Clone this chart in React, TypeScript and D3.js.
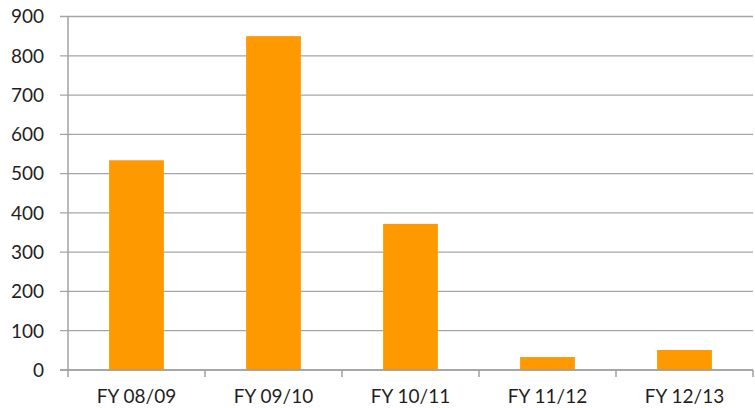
import { useEffect, useRef } from 'react';
import * as d3 from 'd3';

const categories = ['FY 08/09', 'FY 09/10', 'FY 10/11', 'FY 11/12', 'FY 12/13'];
const values = [534, 850, 372, 33, 51];
const yTicks = [0, 100, 200, 300, 400, 500, 600, 700, 800, 900];

export default function App() {
  const svgRef = useRef<SVGSVGElement>(null);

  useEffect(() => {
    document.body.style.margin = '0';
    if (!svgRef.current) return;

    const width = 755;
    const height = 408;
    const margin = { top: 16.5, right: 2, bottom: 38, left: 68 };
    const innerWidth = width - margin.left - margin.right;
    const innerHeight = height - margin.top - margin.bottom;

    d3.select(svgRef.current).selectAll('*').remove();

    const svg = d3.select(svgRef.current)
      .attr('width', width)
      .attr('height', height);

    const g = svg.append('g')
      .attr('transform', `translate(${margin.left},${margin.top})`);

    const x = d3.scaleBand()
      .domain(categories)
      .range([0, innerWidth])
      .paddingInner(0.6)
      .paddingOuter(0.3);

    const xOuter = d3.scaleBand()
      .domain(categories)
      .range([0, innerWidth]);

    const y = d3.scaleLinear()
      .domain([0, 900])
      .range([innerHeight, 0]);

    const font = 'Lato, "Open Sans", sans-serif';

    // gridlines
    g.selectAll('.grid')
      .data(yTicks)
      .join('line')
      .attr('class', 'grid')
      .attr('x1', -8)
      .attr('x2', innerWidth)
      .attr('y1', d => y(d))
      .attr('y2', d => y(d))
      .attr('stroke', '#a6a6a6')
      .attr('stroke-width', 1.3);

    // y labels
    g.selectAll('.ylab')
      .data(yTicks)
      .join('text')
      .attr('class', 'ylab')
      .attr('x', -24)
      .attr('y', d => y(d))
      .attr('dy', '0.36em')
      .attr('text-anchor', 'end')
      .style('font-family', font)
      .style('font-size', '19px')
      .style('fill', '#1f1f1f')
      .text(d => d);

    // bars
    g.selectAll('.bar')
      .data(values)
      .join('rect')
      .attr('class', 'bar')
      .attr('x', (_, i) => x(categories[i]) || 0)
      .attr('y', d => y(d))
      .attr('width', x.bandwidth())
      .attr('height', d => innerHeight - y(d))
      .attr('fill', '#ff9900');

    // axes lines
    g.append('line')
      .attr('x1', 0).attr('x2', 0)
      .attr('y1', 0).attr('y2', innerHeight)
      .attr('stroke', '#a0a0a0')
      .attr('stroke-width', 1.5);

    g.append('line')
      .attr('x1', -8).attr('x2', innerWidth)
      .attr('y1', innerHeight).attr('y2', innerHeight)
      .attr('stroke', '#a0a0a0')
      .attr('stroke-width', 1.5);

    // x ticks at band boundaries
    const bounds = categories.map(c => xOuter(c) || 0).concat([innerWidth]);
    g.selectAll('.xtick')
      .data(bounds)
      .join('line')
      .attr('class', 'xtick')
      .attr('x1', d => d).attr('x2', d => d)
      .attr('y1', innerHeight).attr('y2', innerHeight + 7)
      .attr('stroke', '#a0a0a0')
      .attr('stroke-width', 1.5);

    // x labels
    g.selectAll('.xlab')
      .data(categories)
      .join('text')
      .attr('class', 'xlab')
      .attr('x', d => (xOuter(d) || 0) + xOuter.bandwidth() / 2)
      .attr('y', innerHeight + 33)
      .attr('text-anchor', 'middle')
      .style('font-family', font)
      .style('font-size', '19px')
      .style('fill', '#1f1f1f')
      .text(d => d);
  }, []);

  return (
    <div>
      <svg ref={svgRef}></svg>
    </div>
  );
}
